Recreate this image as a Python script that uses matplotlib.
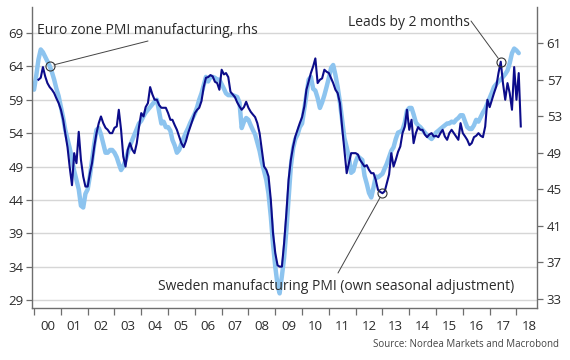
import matplotlib
matplotlib.use("Agg")
import matplotlib.pyplot as plt
import matplotlib.dates as mdates
from matplotlib.ticker import NullFormatter
from matplotlib.transforms import blended_transform_factory
import pandas as pd

# ---------------- data ----------------
# Euro zone PMI manufacturing (rhs), monthly from Jan 2000
euro = [
    55.9, 57.5, 59.2, 60.3, 60.0, 59.5, 59.0, 58.5, 57.8, 57.0, 56.0, 55.2,   # 2000
    54.0, 52.8, 51.5, 50.5, 49.5, 48.3, 47.0, 46.0, 45.0, 43.2, 43.0, 44.5,   # 2001
    45.0, 46.5, 48.2, 50.0, 51.5, 51.7, 51.0, 50.0, 49.0, 49.0, 49.3, 49.3,   # 2002
    49.0, 48.5, 47.8, 47.1, 47.5, 48.2, 49.0, 49.8, 50.4, 51.0, 51.6, 52.2,   # 2003
    52.5, 53.0, 53.4, 53.7, 54.0, 54.3, 54.6, 54.8, 53.5, 52.2, 52.4, 51.8,   # 2004
    51.8, 51.4, 50.4, 49.8, 49.0, 49.3, 50.0, 50.6, 51.2, 51.7, 52.3, 52.8,   # 2005
    53.3, 54.0, 54.8, 55.5, 56.4, 57.3, 56.8, 57.3, 57.3, 57.2, 57.0, 57.0,   # 2006
    56.5, 56.0, 55.5, 55.3, 55.3, 55.3, 55.2, 55.1, 54.5, 51.7, 52.4, 52.8,   # 2007
    52.6, 52.0, 51.5, 51.0, 50.1, 49.2, 48.0, 47.0, 46.0, 44.5, 42.0, 39.0,   # 2008
    36.5, 34.5, 33.6, 35.5, 37.5, 40.5, 44.0, 47.5, 49.5, 50.5, 51.0, 51.8,   # 2009
    52.2, 53.8, 55.3, 57.0, 57.3, 56.0, 55.8, 55.0, 53.9, 54.5, 55.3, 56.2,   # 2010
    57.2, 58.3, 58.6, 57.5, 56.2, 54.5, 52.6, 50.6, 49.6, 48.5, 46.8, 47.0,   # 2011
    48.0, 48.6, 48.4, 48.2, 46.5, 45.6, 44.6, 44.1, 45.2, 46.4, 46.3, 46.5,   # 2012
    46.7, 47.3, 47.8, 48.5, 49.2, 49.6, 50.5, 51.2, 51.3, 51.5, 52.3, 53.6,   # 2013
    53.9, 53.9, 53.2, 52.3, 52.0, 51.8, 51.5, 51.2, 50.9, 50.7, 50.5, 50.8,   # 2014
    51.2, 51.4, 51.6, 51.8, 52.0, 52.2, 52.2, 52.4, 52.3, 52.6, 52.8, 53.1,   # 2015
    53.1, 52.4, 51.8, 51.6, 51.6, 52.0, 52.6, 52.4, 52.9, 53.4, 53.8, 54.4,   # 2016
    55.0, 55.6, 56.2, 56.5, 56.8, 57.0, 57.3, 57.6, 58.0, 58.8, 59.9, 60.4,   # 2017
    60.2, 59.9,                                                               # 2018
]
euro_start = "2000-01-01"

# Sweden manufacturing PMI (own seasonal adjustment), monthly from Mar 2000
sweden = [
    62.0, 62.3, 63.9, 62.5, 61.5, 60.9, 60.5, 60.0, 59.2, 58.5,               # 2000
    57.5, 56.0, 54.0, 51.9, 48.9, 46.2, 51.0, 49.5, 54.2, 50.0, 47.5, 46.0,   # 2001
    46.0, 48.0, 49.5, 52.0, 54.0, 55.5, 56.5, 55.5, 54.8, 54.5, 54.0, 54.0,   # 2002
    54.8, 55.0, 57.5, 54.5, 50.5, 49.0, 51.5, 52.5, 51.5, 51.0, 52.5, 54.9,   # 2003
    57.0, 56.5, 57.9, 58.5, 60.9, 59.8, 59.0, 59.0, 58.2, 57.8, 57.8, 57.8,   # 2004
    57.0, 56.0, 56.0, 55.2, 54.5, 53.5, 52.5, 51.9, 52.8, 54.0, 55.0, 56.0,   # 2005
    57.0, 57.5, 57.8, 58.8, 60.9, 62.3, 62.4, 62.7, 62.5, 61.7, 61.5, 60.5,   # 2006
    63.5, 62.8, 63.0, 62.4, 60.2, 59.8, 59.4, 58.6, 58.0, 57.5, 57.9, 58.7,   # 2007
    57.8, 57.2, 56.8, 56.4, 55.5, 54.0, 51.5, 49.0, 48.5, 47.5, 44.0, 39.0,   # 2008
    36.0, 34.2, 34.0, 34.0, 37.5, 42.0, 47.0, 50.0, 52.0, 53.5, 54.5, 55.5,   # 2009
    56.4, 58.0, 60.5, 61.8, 63.0, 64.0, 65.2, 61.5, 62.0, 62.2, 63.5, 63.2,   # 2010
    63.0, 62.2, 61.5, 60.5, 60.0, 58.5, 54.9, 51.5, 48.0, 49.5, 51.0, 51.0,   # 2011
    51.0, 50.8, 50.0, 49.5, 49.0, 49.2, 48.5, 48.0, 48.0, 47.0, 45.5, 45.2,   # 2012
    45.0, 45.3, 46.5, 47.8, 51.0, 49.0, 50.0, 51.2, 52.0, 54.0, 55.0, 57.5,   # 2013
    54.5, 56.0, 52.5, 54.0, 54.9, 54.5, 54.5, 53.8, 53.4, 53.8, 54.0, 53.5,   # 2014
    53.6, 53.4, 54.0, 54.5, 53.5, 53.0, 54.0, 54.5, 54.0, 53.5, 53.0, 55.5,   # 2015
    54.0, 53.5, 53.0, 52.2, 52.5, 53.4, 53.6, 54.0, 53.6, 53.4, 55.0, 59.0,   # 2016
    57.9, 59.0, 60.0, 61.0, 63.0, 64.7, 61.5, 59.0, 61.5, 60.0, 57.5, 63.9,   # 2017
    59.0, 63.0, 55.0,                                                         # 2018
]
sweden_start = "2000-03-01"

left_ticks = [29, 34, 39, 44, 49, 54, 59, 64, 69]
right_ticks = [33, 37, 41, 45, 49, 53, 57, 61]

label_euro = "Euro zone PMI manufacturing, rhs"
label_sweden = "Sweden manufacturing PMI (own seasonal adjustment)"
label_lead = "Leads by 2 months"
source = "Source: Nordea Markets and Macrobond"

# annotated points (index into the series)
euro_mark_idx = 7
sweden_low_idx = 154
sweden_peak_idx = 207

# ---------------- plot ----------------
plt.rcParams["font.family"] = ["Open Sans", "DejaVu Sans"]

NAVY = "#0c0c8a"
LIGHT = "#8dc4ef"
GRID = "#d6d6d6"
SPINE = "#6e6e6e"
TXT = "#2b2b2b"

d_eu = pd.date_range(euro_start, periods=len(euro), freq="MS")
d_se = pd.date_range(sweden_start, periods=len(sweden), freq="MS")

fig = plt.figure(figsize=(5.7, 3.6), dpi=100)
W, H = 570, 360
ax = fig.add_axes([32 / W, 1 - 308 / H, (537 - 32) / W, (308 - 7) / H])
ax2 = ax.twinx()
ax2.set_zorder(1)
ax.set_zorder(2)
ax.patch.set_visible(False)

ax.set_ylim(27.8, 72.9)
ax2.set_ylim(32.0, 64.95)
ax.set_xlim(pd.Timestamp("1999-12-04"), pd.Timestamp("2018-10-08"))

# grid lines at left-axis ticks, drawn beneath both series
tr = blended_transform_factory(ax2.transAxes, ax.transData)
for v in left_ticks:
    ax2.plot([0, 1], [v, v], transform=tr, color=GRID, lw=1.0, zorder=0)

ax2.plot(d_eu, euro, color=LIGHT, lw=3.2, solid_capstyle="round",
         solid_joinstyle="round", zorder=2)
ax.plot(d_se, sweden, color=NAVY, lw=1.5, solid_joinstyle="round", zorder=3)

# axes styling
ax.set_yticks(left_ticks)
ax2.set_yticks(right_ticks)
for a in (ax, ax2):
    for s in a.spines.values():
        s.set_color(SPINE)
        s.set_linewidth(1.0)
    a.spines["top"].set_visible(False)
ax.spines["right"].set_visible(False)
ax2.spines["left"].set_visible(False)
ax2.spines["bottom"].set_visible(False)

ax.tick_params(axis="y", which="major", length=4, width=0.9, color=SPINE,
               labelsize=9.5, labelcolor=TXT, pad=2)
ax2.tick_params(axis="y", which="major", length=4, width=0.9, color=SPINE,
                labelsize=9.5, labelcolor=TXT, pad=3)

ax.xaxis.set_major_locator(mdates.YearLocator(1))
ax.xaxis.set_major_formatter(NullFormatter())
ax.xaxis.set_minor_locator(mdates.MonthLocator(bymonth=7))
ax.xaxis.set_minor_formatter(mdates.DateFormatter("%y"))
ax.tick_params(axis="x", which="major", length=5, width=0.9, color=SPINE)
ax.tick_params(axis="x", which="minor", length=0, labelsize=9.5,
               labelcolor=TXT, pad=9)

# annotations
circ = dict(marker="o", ms=6.5, mfc="none", mec="#333333", mew=0.8, ls="none")
arrow = dict(arrowstyle="-", color="#444444", lw=0.7, shrinkA=0, shrinkB=3.2)

ax2.plot(d_eu[euro_mark_idx], euro[euro_mark_idx], zorder=5, **circ)
ax2.annotate("", xy=(d_eu[euro_mark_idx], euro[euro_mark_idx]),
             xytext=(148, H - 41), textcoords="figure pixels",
             arrowprops=arrow, zorder=5)

ax.plot(d_se[sweden_low_idx], sweden[sweden_low_idx], zorder=5, **circ)
ax.annotate("", xy=(d_se[sweden_low_idx], sweden[sweden_low_idx]),
            xytext=(338, H - 273), textcoords="figure pixels",
            arrowprops=arrow, zorder=5)

ax.plot(d_se[sweden_peak_idx], sweden[sweden_peak_idx], zorder=5, **circ)
ax.annotate("", xy=(d_se[sweden_peak_idx], sweden[sweden_peak_idx]),
            xytext=(471, H - 21), textcoords="figure pixels",
            arrowprops=arrow, zorder=5)

fig.text(37 / W, 1 - 34 / H, label_euro, fontsize=10, color=TXT, va="baseline")
fig.text(348 / W, 1 - 26 / H, label_lead, fontsize=10, color=TXT, va="baseline")
fig.text(158 / W, 1 - 290 / H, label_sweden, fontsize=10, color=TXT, va="baseline")
fig.text(559 / W, 1 - 347 / H, source, fontsize=7, color="#444444",
         va="baseline", ha="right")

fig.savefig("out.png", dpi=100)
